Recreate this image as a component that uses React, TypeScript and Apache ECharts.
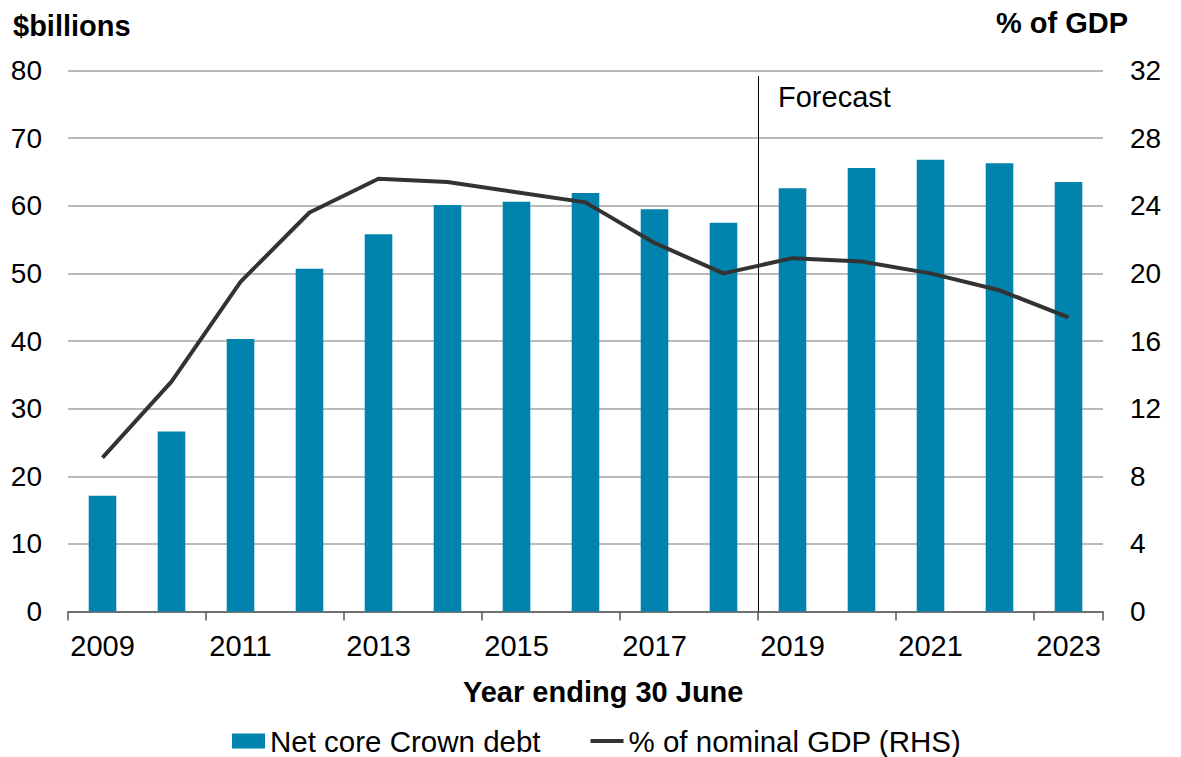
import React, { useEffect, useRef } from "react";
import * as echarts from "echarts";

const years = ["2009","2010","2011","2012","2013","2014","2015","2016","2017","2018","2019","2020","2021","2022","2023"];
const netDebt = [17.1, 26.6, 40.3, 50.7, 55.8, 60.1, 60.6, 61.9, 59.5, 57.5, 62.6, 65.6, 66.8, 66.3, 63.5];
const pctGdp = [9.1, 13.6, 19.5, 23.6, 25.6, 25.4, 24.8, 24.2, 21.8, 20.0, 20.9, 20.7, 20.0, 19.0, 17.4];
const forecastBoundary = 10; // boundary between 2018 and 2019
const leftTicks = { min: 0, max: 80, interval: 10 };
const rightTicks = { min: 0, max: 32, interval: 4 };

const FONT = "'Liberation Sans', Arial, Helvetica, sans-serif";

export default function App() {
  const ref = useRef<HTMLDivElement>(null);
  useEffect(() => {
    if (!ref.current) return;
    const chart = echarts.init(ref.current, undefined, { renderer: "svg" });
    chart.setOption({
      animation: false,
      backgroundColor: "#ffffff",
      textStyle: { fontFamily: FONT, color: "#000" },
      title: [
        { text: "$billions", left: 13, top: 11, padding: 0, textStyle: { fontFamily: FONT, fontSize: 29, fontWeight: "bold", color: "#000" } },
        { text: "% of GDP", right: 53, top: 8, padding: 0, textStyle: { fontFamily: FONT, fontSize: 29, fontWeight: "bold", color: "#000" } },
        { text: "Year ending 30 June", left: 463, top: 677, padding: 0, textStyle: { fontFamily: FONT, fontSize: 29, fontWeight: "bold", color: "#000" } },
        { text: "Forecast", left: 778, top: 82, padding: 0, textStyle: { fontFamily: FONT, fontSize: 29, fontWeight: "normal", color: "#000" } },
      ],
      grid: { left: 68, right: 78, top: 70.5, bottom: 145.5, containLabel: false },
      legend: {
        left: 232,
        top: 726,
        padding: 0,
        itemWidth: 33,
        itemHeight: 15,
        itemGap: 50,
        symbolKeepAspect: true,
        textStyle: { fontFamily: FONT, fontSize: 29.5, lineHeight: 26, color: "#000" },
        data: [
          { name: "Net core Crown debt", icon: "rect" },
          { name: "% of nominal GDP (RHS)", icon: "path://M0,0H34V4H0Z" },
        ],
      },
      xAxis: [
        {
          type: "category",
          data: years,
          boundaryGap: true,
          axisLine: { lineStyle: { color: "#595959", width: 1.5 } },
          axisTick: { show: true, interval: 1, alignWithLabel: false, length: 9, lineStyle: { color: "#595959", width: 1.5 } },
          axisLabel: { interval: 1, fontSize: 29, color: "#000", margin: 20, fontFamily: FONT },
          splitLine: { show: false },
        },
        { type: "value", min: 0, max: years.length, show: false },
      ],
      yAxis: [
        {
          type: "value",
          min: leftTicks.min,
          max: leftTicks.max,
          interval: leftTicks.interval,
          axisLine: { show: false },
          axisTick: { show: false },
          axisLabel: { fontSize: 28, color: "#000", margin: 26, fontFamily: FONT },
          splitLine: { lineStyle: { color: "#a3a3a3", width: 1.5 } },
        },
        {
          type: "value",
          min: rightTicks.min,
          max: rightTicks.max,
          interval: rightTicks.interval,
          position: "right",
          axisLine: { show: false },
          axisTick: { show: false },
          axisLabel: { fontSize: 28, color: "#000", margin: 27, fontFamily: FONT },
          splitLine: { show: false },
        },
      ],
      series: [
        {
          name: "Net core Crown debt",
          type: "bar",
          data: netDebt,
          barWidth: "40%",
          itemStyle: { color: "#0084ad" },
          xAxisIndex: 0,
          yAxisIndex: 0,
        },
        {
          name: "% of nominal GDP (RHS)",
          type: "line",
          data: pctGdp,
          yAxisIndex: 1,
          xAxisIndex: 0,
          symbol: "none",
          lineStyle: { color: "#333333", width: 4 },
          itemStyle: { color: "#333333" },
          z: 5,
        },
        {
          name: "forecast",
          type: "line",
          xAxisIndex: 1,
          yAxisIndex: 0,
          data: [],
          symbol: "none",
          markLine: {
            silent: true,
            symbol: "none",
            label: { show: false },
            lineStyle: { color: "#000", width: 1, type: "solid" },
            data: [[{ coord: [forecastBoundary, 79.2] }, { coord: [forecastBoundary, 0] }]],
          },
        },
      ],
    });
    return () => chart.dispose();
  }, []);
  return <div ref={ref} style={{ position: "absolute", left: 0, top: 0, width: 1181, height: 757 }} />;
}
